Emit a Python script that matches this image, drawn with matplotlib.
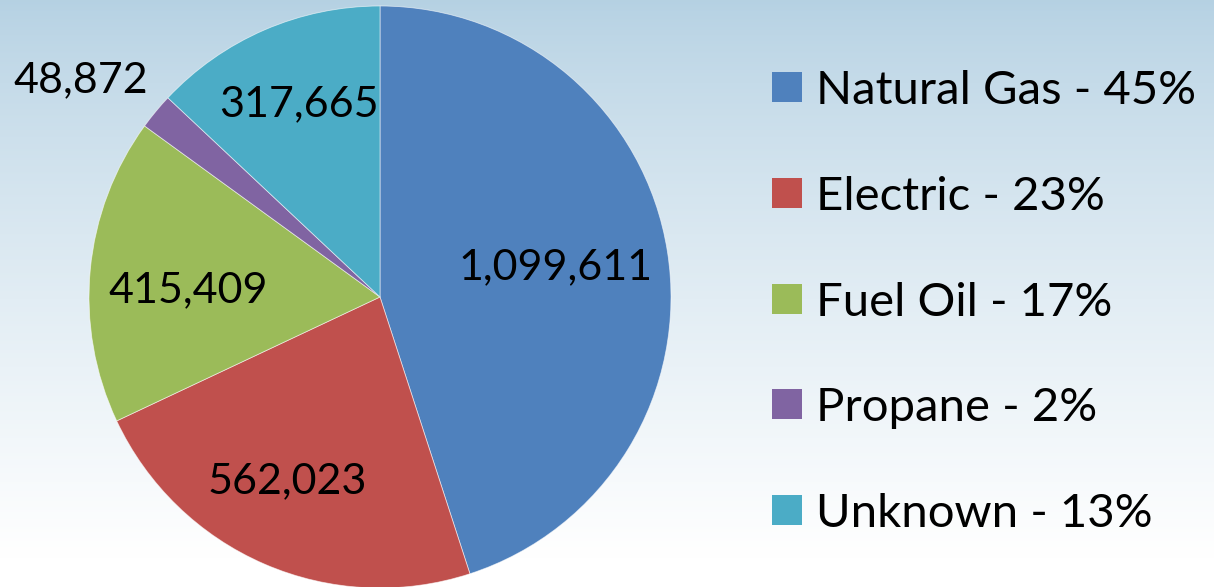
import numpy as np
import matplotlib
matplotlib.use("Agg")
import matplotlib.pyplot as plt
from matplotlib.patches import Rectangle

plt.rcParams['font.family'] = ['Lato', 'DejaVu Sans']

categories = ["Natural Gas", "Electric", "Fuel Oil", "Propane", "Unknown"]
values = [1099611, 562023, 415409, 48872, 317665]
colors = ["#4F81BD", "#C0504D", "#9BBB59", "#8064A2", "#4BACC6"]
label_dist = [0.61, 0.71, 0.66, 1.27, 0.72]
label_angle_shift = [0.5, -3.3, 3.4, 3.6, -0.5]

W, H = 1214, 587
fig = plt.figure(figsize=(W / 100, H / 100), dpi=100)

# background gradient
bg = fig.add_axes([0, 0, 1, 1])
grad = np.linspace(0, 1, 256).reshape(-1, 1)
top = np.array([0.71, 0.82, 0.89])
bot = np.array([1.0, 1.0, 1.0])
t = np.clip(grad / 0.95, 0, 1) ** 0.8
img = top[None, None, :] * (1 - t[..., None]) + bot[None, None, :] * t[..., None]
img = np.repeat(img, 4, axis=1)
bg.imshow(img, aspect='auto', extent=[0, 1, 0, 1], origin='upper')
bg.set_axis_off()

cx, cy, r = 380, 297, 291
ax = fig.add_axes([(cx - r) / W, (H - cy - r) / H, 2 * r / W, 2 * r / H])
wedges, _ = ax.pie(values, colors=colors, startangle=90, counterclock=False,
                   radius=1.0, wedgeprops=dict(edgecolor=(1, 1, 1, 0.6), linewidth=0.6))
ax.set_xlim(-1, 1)
ax.set_ylim(-1, 1)
ax.set_aspect('auto')
ax.set_axis_off()

for w, v, d, s in zip(wedges, values, label_dist, label_angle_shift):
    ang = np.deg2rad((w.theta1 + w.theta2) / 2 + s)
    ax.text(d * np.cos(ang), d * np.sin(ang), f"{v:,}", ha='center', va='center',
            fontsize=31, color='black', clip_on=False)

total = sum(values)
row_y = [86.7, 192.7, 298.7, 404.0, 510.0]
for name, v, c, y in zip(categories, values, colors, row_y):
    fig.patches.append(Rectangle((772 / W, (H - y - 15) / H), 30 / W, 30 / H,
                                 transform=fig.transFigure, facecolor=c, edgecolor='none'))
    fig.text(816 / W, (H - y) / H, f"{name} - {round(100 * v / total)}%",
             ha='left', va='center_baseline', fontsize=34, color='black')

fig.savefig("out.png", dpi=100)
